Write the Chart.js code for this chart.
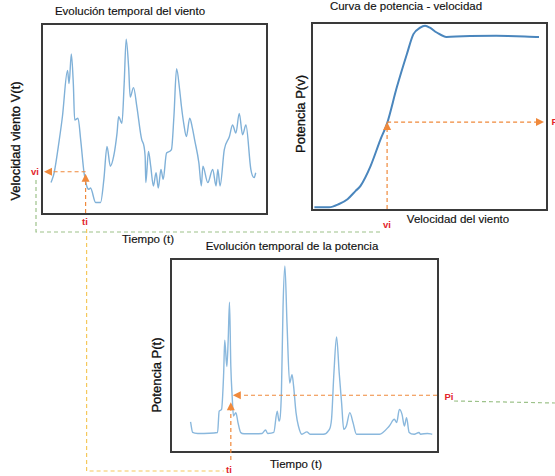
<!DOCTYPE html>
<html><head><meta charset="utf-8">
<script src="https://cdn.jsdelivr.net/npm/chart.js@4.4.0/dist/chart.umd.min.js"></script>
<style>
html,body{margin:0;padding:0;background:#fff;}
body{width:555px;height:476px;position:relative;overflow:hidden;font-family:"Liberation Sans",Arial,sans-serif;}
.box{position:absolute;box-sizing:border-box;border:2px solid #3a3a3a;}
.box canvas{position:absolute;left:0;top:0;}
.t{position:absolute;white-space:nowrap;color:#111;transform:translate(-50%,-50%);font-size:11.5px;line-height:1;-webkit-text-stroke:0.15px #111;}
.rot{transform:translate(-50%,-50%) rotate(-90deg);font-size:13px;-webkit-text-stroke:0.3px #111;}
.r{position:absolute;white-space:nowrap;color:#e3242b;font-weight:bold;font-size:9.5px;line-height:1;transform:translate(-50%,-50%);}
#ov{position:absolute;left:0;top:0;pointer-events:none;z-index:5;}
</style></head>
<body>
<div class="box" style="left:41px;top:23px;width:227px;height:192px;"><canvas id="c1" width="223" height="188"></canvas></div>
<div class="box" style="left:311px;top:22px;width:237px;height:189px;"><canvas id="c2" width="233" height="185"></canvas></div>
<div class="box" style="left:170px;top:258px;width:269px;height:195px;"><canvas id="c3" width="265" height="191"></canvas></div>
<canvas id="ov" width="555" height="476"></canvas>

<div class="t" style="left:130px;top:12px;">Evolución temporal del viento</div>
<div class="t rot" style="left:15px;top:141px;">Velocidad viento V(t)</div>
<div class="t" style="left:148px;top:240px;">Tiempo (t)</div>
<div class="t" style="left:406px;top:7px;">Curva de potencia - velocidad</div>
<div class="t rot" style="left:300px;top:114px;">Potencia P(v)</div>
<div class="t" style="left:458px;top:220px;">Velocidad del viento</div>
<div class="t" style="left:292px;top:247px;">Evolución temporal de la potencia</div>
<div class="t rot" style="left:156px;top:375px;">Potencia P(t)</div>
<div class="t" style="left:296px;top:465px;">Tiempo (t)</div>

<div class="r" style="left:35px;top:172px;">vi</div>
<div class="r" style="left:85px;top:222px;">ti</div>
<div class="r" style="left:387px;top:225px;">vi</div>
<div class="r" style="left:449px;top:397px;">Pi</div>
<div class="r" style="left:556px;top:122px;">Pi</div>
<div class="r" style="left:229px;top:470px;">ti</div>

<script>
// Wind speed over time (chart 1)
const windTime = [3.6,5.0,7.3,8.7,11.0,11.7,12.7,13.6,14.2,15.7,16.9,18.4,19.6,20.6,21.3,23.6,25.8,27.3,28.7,30.2,31.7,33.2,33.9,35.4,36.4,37.3,38.4,39.1,40.6,42.1,44.3,45.8,46.1,47.3,48.3,49.5,50.7,51.7,52.9,53.9,55.4,57.6,58.7,59.9,61.3,62.1,63.1,64.3,65.8,67.0,68.0,69.9,71.0,71.7,73.9,76.1,77.6,78.4,79.4,81.3,83.6,85.0,86.5,88.0,89.5,91.0,93.2,94.7,95.4];
const windSpeed = [16.2,21.4,38.9,51.2,75.8,68.8,84.6,68.8,49.5,50.4,38.9,21.4,14.4,12.6,13.3,5.6,5.6,17.9,35.4,24.9,30.2,42.5,51.2,47.7,68.8,92.5,77.5,61.7,66.7,56.5,38.9,30.2,16.2,32.8,24.9,14.4,21.4,13.3,23.2,17.9,31.9,33.7,51.2,76.7,65.3,56.5,47.7,40.7,50.4,45.1,38.9,26.7,14.4,24.9,16.2,23.2,14.4,23.2,14.4,33.7,40.7,46.8,42.5,53.0,41.6,46.8,23.2,18.8,21.4];
// Power curve (chart 2)
const curveSpeed = [0.6,6.9,11.2,14.8,18.3,20.4,24.7,28.9,31.8,36.0,40.3,43.1,46.0,48.1,50.2,53.1,57.3,64.4,78.6,97.0];
const curvePower = [0.9,0.9,2.7,5.3,9.8,12.5,23.2,37.4,46.3,65.9,83.8,94.5,98.0,99.0,98.0,95.4,93.0,93.4,93.6,93.0];
// Power over time (chart 3)
const powerTime = [7.0,7.8,9.7,17.2,17.8,18.7,19.5,19.9,20.7,21.2,21.7,22.2,22.7,23.2,24.1,24.9,25.9,27.2,34.0,35.3,36.1,38.4,39.7,40.4,41.3,41.9,42.6,43.4,44.4,45.3,45.9,46.8,47.7,49.0,50.9,52.1,57.1,59.0,60.2,61.1,62.1,63.1,64.0,64.8,65.8,67.1,68.3,69.6,78.3,82.0,83.9,84.8,85.8,86.8,87.7,88.5,89.5,91.4,93.2,93.8,96.4,98.2];
const powerValue = [15.2,9.7,9.2,9.7,20.9,21.8,40.8,58.0,44.2,58.0,77.9,44.2,28.7,18.3,20.1,14.9,9.7,9.0,9.2,11.0,9.2,9.7,20.9,15.7,31.1,75.3,96.9,66.7,35.6,39.9,33.8,20.1,13.1,8.8,10.0,8.8,8.8,10.5,16.6,40.8,59.7,40.8,25.2,11.4,13.1,20.1,14.9,8.8,8.8,13.1,16.6,14.9,21.8,19.2,13.1,17.5,9.7,8.8,9.7,8.8,9.2,8.8];
// Marked operating point
const windTi = 19.1, windVi = 21.4;
const curveVi = 31.8, curvePi = 47.0;
const powerTi = 22.2, powerPi = 29.2;

function makeChart(id, xs, ys, color, width){
  const data = xs.map((x,i)=>({x:x, y:ys[i]}));
  return new Chart(document.getElementById(id), {
    type:'line',
    data:{datasets:[{data:data, borderColor:color, borderWidth:width, pointRadius:0, cubicInterpolationMode:'monotone', fill:false}]},
    options:{responsive:false, animation:false, events:[], layout:{padding:0},
      plugins:{legend:{display:false}, tooltip:{enabled:false}, title:{display:false}},
      scales:{x:{type:'linear', min:0, max:100, display:false}, y:{type:'linear', min:0, max:100, display:false}}}
  });
}
const c1 = makeChart('c1', windTime, windSpeed, '#80b1d8', 1.4);
const c2 = makeChart('c2', curveSpeed, curvePower, '#4a86bd', 2);
const c3 = makeChart('c3', powerTime, powerValue, '#8ab8dd', 1.4);

function pos(chart, xv, yv){
  const r = chart.canvas.getBoundingClientRect();
  return {x: r.left + chart.scales.x.getPixelForValue(xv), y: r.top + chart.scales.y.getPixelForValue(yv),
          left:r.left, top:r.top, right:r.right, bottom:r.bottom};
}
const ctx = document.getElementById('ov').getContext('2d');
function dashLine(pts, color){
  ctx.save(); ctx.strokeStyle=color; ctx.lineWidth=1.2; ctx.setLineDash([4,3]);
  ctx.beginPath(); ctx.moveTo(pts[0][0],pts[0][1]);
  for(let i=1;i<pts.length;i++) ctx.lineTo(pts[i][0],pts[i][1]);
  ctx.stroke(); ctx.restore();
}
function arrow(x1,y1,x2,y2,color){
  const L=8, W=4;
  const dx=x2-x1, dy=y2-y1, d=Math.hypot(dx,dy), ux=dx/d, uy=dy/d;
  dashLine([[x1,y1],[x2-ux*L,y2-uy*L]], color);
  ctx.save(); ctx.fillStyle=color; ctx.beginPath();
  ctx.moveTo(x2,y2);
  ctx.lineTo(x2-ux*L-uy*W, y2-uy*L+ux*W);
  ctx.lineTo(x2-ux*L+uy*W, y2-uy*L-ux*W);
  ctx.closePath(); ctx.fill(); ctx.restore();
}
const OR='#f0893b', GR='#9dc28a', YE='#f5c85c';
const p = pos(c1, windTi, windVi);
const q = pos(c2, curveVi, curvePi);
const r = pos(c3, powerTi, powerPi);
// chart 1
arrow(p.x, p.bottom, p.x, p.y+1, OR);
arrow(p.x, p.y-1, p.left+1, p.y-1, OR);
// chart 2
arrow(q.x, q.bottom, q.x, q.y, OR);
arrow(q.x, q.y, q.right-2, q.y, OR);
// chart 3
arrow(r.x, r.bottom+9, r.x, r.y+7, OR);
arrow(r.right, r.y, r.x+2, r.y, OR);
// links
dashLine([[36,180],[36,232],[q.x-5,232]], GR);
dashLine([[p.x+1,229],[p.x+1,471],[r.x-7,471]], YE);
dashLine([[454,401],[555,403]], GR);
</script>
</body></html>
